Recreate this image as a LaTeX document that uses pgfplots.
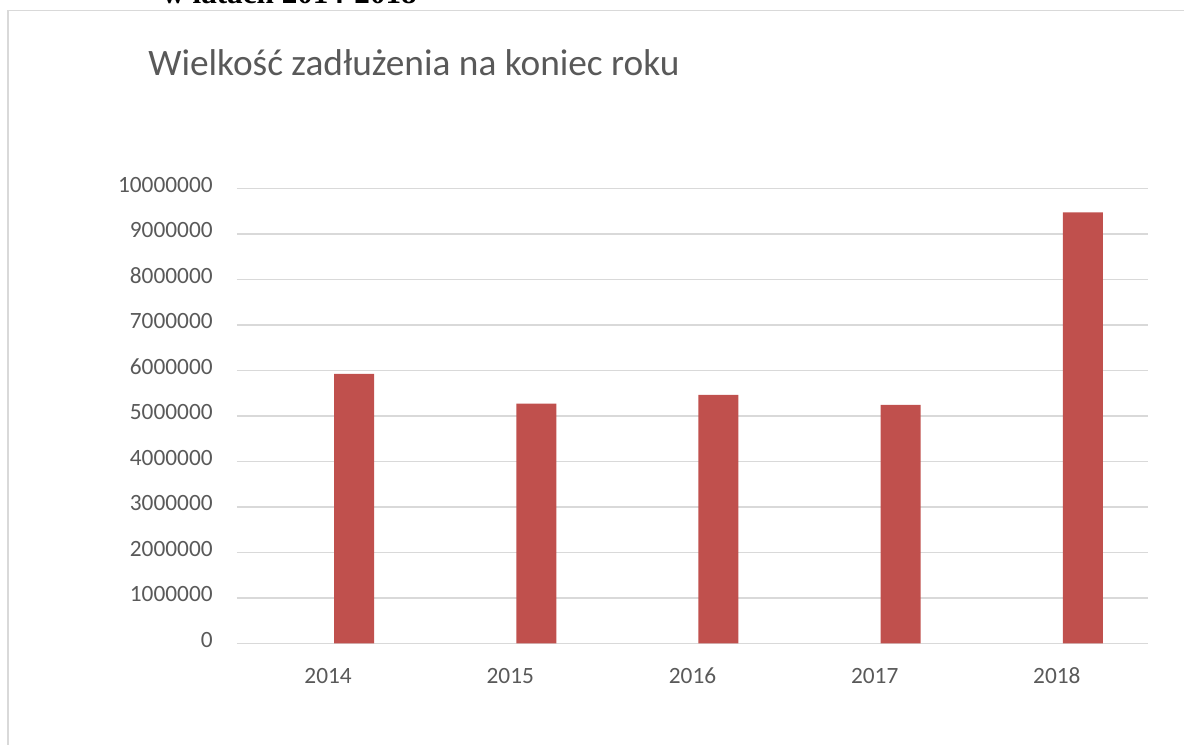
\documentclass[border=0pt]{standalone}
\usepackage{fontspec}
\setmainfont{Carlito}
\newfontfamily\timesfont{Liberation Serif}
\usepackage{pgfplots}
\pgfplotsset{compat=1.18}
\definecolor{barred}{HTML}{C0504D}
\definecolor{txtgray}{HTML}{595959}
\definecolor{gridgray}{HTML}{D9D9D9}
\begin{document}
\begin{tikzpicture}
\useasboundingbox (-142.2pt,-61.02pt) rectangle (568.2pt,385.98pt);
% chart frame
\draw[gridgray, line width=0.9pt] (-137.4pt,-80pt) -- (-137.4pt,379.7pt) -- (600pt,379.7pt);
% cut-off heading above the chart
\node[anchor=base west, inner sep=0pt, font=\timesfont\bfseries\fontsize{18.7pt}{20pt}\selectfont] at (-45pt,383.6pt) {w latach 2014-2018};
% title
\node[anchor=base west, inner sep=0pt, text=txtgray, font=\fontsize{22.4pt}{26pt}\selectfont] at (-53.4pt,340.4pt) {Wielkość zadłużenia na koniec roku};
\begin{axis}[
  at={(0pt,0pt)}, anchor=south west,
  scale only axis,
  width=546.6pt, height=273pt,
  xmin=-0.5, xmax=4.5,
  ymin=0, ymax=10000000,
  ytick={0,1000000,...,10000000},
  xtick=data,
  xticklabels={2014,2015,2016,2017,2018},
  scaled y ticks=false,
  /pgf/number format/.cd, fixed, 1000 sep={}, assume math mode=true,
  /pgfplots/.cd,
  axis line style={draw=none},
  major tick length=0pt,
  ymajorgrids,
  grid style={gridgray, line width=0.9pt},
  tick label style={text=txtgray, font=\fontsize{14pt}{16pt}\selectfont},
  yticklabel style={anchor=mid east, inner sep=0pt, xshift=-14.4pt},
  xticklabel style={anchor=base, inner sep=0pt, yshift=-24pt},
  ybar, bar width=24pt, bar shift=15.6pt,
  clip=false,
]
\addplot[fill=barred, draw=none] coordinates {(0,5920000) (1,5270000) (2,5460000) (3,5240000) (4,9470000)};
\end{axis}
\end{tikzpicture}
\end{document}
